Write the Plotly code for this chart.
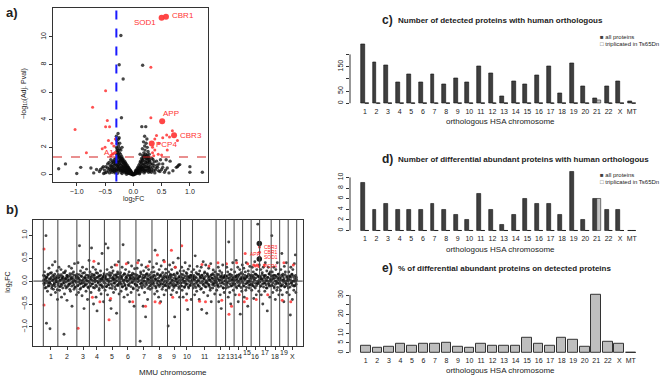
import plotly.graph_objects as go

W, H = 668, 379
FONT = "Liberation Sans, Arial, sans-serif"

# ---------------- panel a : volcano ----------------
A_PAIRS = [
    (-0.015,0.02),(-0.022,0.09),(-0.018,0.15),(-0.035,0.05),(-0.042,0.16),(-0.038,0.26),(-0.055,0.08),(-0.062,0.21),(-0.058,0.34),(-0.065,0.42),
    (-0.075,0.11),(-0.083,0.26),(-0.078,0.44),(-0.086,0.56),(-0.095,0.13),(-0.104,0.31),(-0.098,0.52),(-0.106,0.69),
    (-0.115,0.16),(-0.123,0.36),(-0.118,0.61),(-0.126,0.8),(-0.135,0.21),(-0.143,0.46),(-0.138,0.7),(-0.146,0.94),
    (-0.155,0.18),(-0.163,0.5),(-0.158,0.81),(-0.166,1.04),(-0.175,0.26),(-0.183,0.55),(-0.178,0.9),(-0.186,1.18),
    (-0.195,0.31),(-0.203,0.61),(-0.198,1.0),(-0.206,1.34),(-0.215,0.2),(-0.223,0.7),(-0.218,1.1),(-0.226,1.5),
    (-0.235,0.36),(-0.243,0.8),(-0.238,1.21),(-0.246,1.6),(-0.241,1.9),(-0.255,0.3),(-0.263,0.76),(-0.258,1.3),(-0.266,1.75),(-0.261,2.1),
    (-0.275,0.41),(-0.283,0.9),(-0.278,1.4),(-0.286,1.9),(-0.281,2.3),(-0.295,0.35),(-0.298,0.95),(-0.292,1.5),(-0.297,2.0),(-0.289,2.5),
    (-0.305,0.3),(-0.315,0.8),(-0.31,1.2),(-0.322,1.62),(-0.318,2.6),(-0.335,0.25),(-0.342,0.7),(-0.338,1.1),(-0.345,2.1),
    (-0.355,0.3),(-0.362,0.6),(-0.358,1.0),(-0.365,1.5),(-0.375,0.2),(-0.383,0.5),(-0.378,0.9),(-0.395,0.3),(-0.403,0.7),(-0.398,1.1),
    (-0.42,0.15),(-0.425,0.5),(-0.445,0.3),(-0.455,0.8),(-0.475,0.2),(-0.485,0.6),(-0.51,0.35),(-0.525,0.1),(-0.55,0.5),(-0.6,0.25),(-0.65,0.4),(-0.7,0.15),
    (-0.05,0.3),(-0.09,0.4),(-0.13,0.55),(-0.17,0.65),(-0.21,0.85),(-0.25,1.05),(-0.29,1.2),(-0.12,0.05),(-0.2,0.1),(-0.28,0.12),(-0.33,0.5),
    (-0.27,0.6),(-0.23,0.45),(-0.19,0.4),(-0.15,0.32),(-0.11,0.22),(-0.07,0.15),(-0.3,0.7),(-0.26,0.95),(-0.22,1.25),(-0.18,0.75),(-0.14,0.6),
    (-0.1,0.55),(-0.24,2.3),(-0.28,1.65),(-0.26,2.6),(-0.22,1.8),(-0.2,2.0),(-0.3,2.8),(-0.27,3.0),(-0.25,2.7),
    (-0.03,0.12),(-0.045,0.22),(-0.07,0.32),(-0.085,0.18),(-0.105,0.45),(-0.125,0.28),(-0.14,0.85),(-0.16,0.38),(-0.17,0.95),(-0.185,0.3),
    (-0.19,1.1),(-0.205,0.5),(-0.21,1.2),(-0.225,0.35),(-0.23,1.0),(-0.245,0.55),(-0.25,1.35),(-0.265,0.5),(-0.27,1.5),(-0.285,0.65),
    (-0.29,1.75),(-0.3,1.05),(-0.31,0.45),(-0.32,0.95),(-0.325,0.15),(-0.34,0.4),(-0.35,0.85),(-0.37,0.4),(-0.39,0.65),(-0.41,0.4),
    (-0.43,0.9),(-0.46,0.5),(-0.5,0.15),(-0.53,0.6),(-0.58,0.4),(-0.01,0.01),(0.005,0.01),(0.01,0.05),
    (0.015,0.03),(0.022,0.1),(0.035,0.06),(0.042,0.18),(0.038,0.3),(0.055,0.1),(0.062,0.25),(0.058,0.4),
    (0.075,0.12),(0.083,0.35),(0.078,0.55),(0.095,0.2),(0.104,0.45),(0.098,0.7),
    (0.115,0.15),(0.123,0.5),(0.118,0.85),(0.126,1.0),(0.135,0.3),(0.143,0.6),(0.138,0.95),(0.146,1.2),
    (0.155,0.25),(0.163,0.7),(0.158,1.1),(0.166,1.4),(0.175,0.35),(0.183,0.8),(0.178,1.25),(0.186,1.6),
    (0.195,0.3),(0.203,0.75),(0.198,1.3),(0.206,1.8),(0.201,2.1),(0.215,0.4),(0.223,0.9),(0.218,1.5),(0.226,2.3),
    (0.235,0.35),(0.243,0.85),(0.238,1.2),(0.246,2.0),(0.255,0.3),(0.263,0.7),(0.258,1.1),(0.275,0.45),(0.283,0.9),(0.278,1.25),
    (0.295,0.25),(0.3,0.6),(0.292,1.0),(0.325,0.4),(0.335,0.8),(0.33,1.2),(0.355,0.3),(0.365,0.7),(0.4,0.5),(0.41,1.0),
    (0.445,0.3),(0.455,0.8),(0.5,0.4),(0.55,0.2),(0.6,0.5),
    (0.05,0.2),(0.09,0.3),(0.13,0.4),(0.17,0.5),(0.21,0.6),(0.25,0.55),(0.29,0.4),(0.11,0.08),(0.19,0.15),(0.27,0.2),
    (0.12,1.5),(0.18,2.4),(0.24,2.6),(0.26,1.7),(0.28,1.5),(0.22,3.5),(0.15,3.5),(0.2,2.8),(0.16,1.9),(0.23,1.35),
    (0.35,1.1),(0.42,0.7),(0.48,1.1),(0.52,0.8),(0.38,0.15),
    (0.03,0.15),(0.045,0.26),(0.07,0.35),(0.085,0.5),(0.105,0.3),(0.12,0.65),(0.135,0.5),(0.15,0.85),(0.165,0.45),(0.17,1.05),
    (0.185,0.55),(0.19,1.4),(0.205,1.0),(0.21,0.25),(0.225,1.15),(0.23,0.6),(0.245,1.45),(0.25,0.95),(0.265,1.3),(0.27,0.55),
    (0.285,1.1),(0.31,0.8),(0.32,0.2),(0.345,0.55),(0.37,0.95),(0.39,0.35),(0.43,0.55),(0.47,0.25),(0.52,0.55),(0.57,0.35),(0.63,0.15),
    (0.31,7.8),(0.31,4.15),(0.34,2.0),(0.38,1.8),(0.41,2.85),(0.38,2.6),(0.45,2.3),(0.44,1.5),(0.52,2.7),(0.59,2.9),
    (0.64,2.75),(0.69,3.2),(0.78,2.5),(0.6,1.8),(0.5,1.45),(0.36,1.4),(0.34,1.6),
    (-0.49,6.1),(-0.72,4.9),(-1.03,3.3),(-0.46,3.95),(-0.49,3.5),(-0.42,3.5),(-0.83,1.6),(-0.5,2.0),(-0.44,2.5),
    (-0.38,2.3),(-0.55,1.9),(-0.4,1.4),(-0.35,1.55),
    (-0.22,10.1),(-0.25,7.98),(0.165,7.95),(-0.18,6.95),(-0.21,4.15),(-1.32,0.45),(-1.2,0.8),(-1.0,0.1),(-0.93,0.55),
    (-0.75,0.5),(1.0,0.6),(1.0,0.2),(1.22,0.2),(0.8,0.7),(0.78,0.6),(0.76,0.55),(0.82,0.75),(0.7,0.3),(0.65,1.0),(0.58,1.1),
]
A_LOG2FC = [p[0] for p in A_PAIRS]
A_NEGLOG10P = [p[1] for p in A_PAIRS]
A_FC_CUT = 0.3
A_P_CUT = 1.3
A_GENES = ["SOD1", "CBR1", "APP", "CBR3", "PCP4"]
A_GENE_FC = [0.50, 0.577, 0.51, 0.72, 0.325]
A_GENE_P = [11.39, 11.46, 3.9, 2.88, 2.27]
A_XTICKS = [-1.0, -0.5, 0.0, 0.5, 1.0]
A_YTICKS = [0, 2, 4, 6, 8, 10]

# ---------------- panel b : log2FC along MMU chromosomes ----------------
B_CHROMS = [str(i) for i in range(1, 20)] + ["X"]
B_FC = [
    [0.12,-0.05,0.2,-0.15,0.03,0.99,-0.92,0.08,-0.22,0.15,-0.1,0.28,-0.04,-1.04,0.05,-0.3,0.18,-0.12,0.35,0.02,-0.18,0.1,-0.07,0.42,-0.25,0.06,-0.02,0.22,-0.4],
    [-0.08,0.14,0.3,-0.2,0.02,-0.12,0.25,-0.35,0.06,0.1,-0.05,0.18,-1.16,-0.28,0.04,0.22,-0.15,0.08,-0.42,0.12,0.0,-0.1,0.32,-0.06,0.16,-0.22,0.05,0.28,-0.55,0.09,-0.03,0.2,-0.18,0.38,0.01,-0.13,0.11,-0.3],
    [0.15,-0.1,0.4,-0.25,0.05,0.77,-0.18,0.22,-0.05,0.1,-0.32,0.3,0.02,-0.12,-0.6,0.18,-0.08,0.07,-0.22,0.26,0.0,-0.4,0.12,-0.15,0.45],
    [-0.12,0.2,0.05,-0.25,0.72,0.1,-0.06,0.3,-0.5,0.14,-0.15,0.02,0.25,-0.35,0.08,-0.65,0.17,-0.02,0.38,-0.2,0.11,-0.09,0.22,-0.28,0.04,0.6,-0.14,0.09,-0.45,0.16],
    [0.1,-0.2,0.81,0.05,-0.12,0.25,-0.3,0.72,0.0,-0.08,0.18,-0.42,0.12,-0.6,0.3,-0.16,0.06,0.22,-0.25,0.03,-0.05,0.35,-0.18,0.14,-0.7,0.08,0.2,-0.1,0.42,-0.28,0.04],
    [-0.05,0.18,-0.22,0.08,0.3,-0.12,0.79,0.02,-0.35,0.15,-0.08,0.25,-0.18,0.1,0.0,-0.3,0.4,-0.1,0.2,-0.45,0.06,0.12,-0.25,0.33,-0.02,0.17,-0.15,0.05,-0.55,0.27,-0.06,0.09],
    [0.14,-0.1,0.28,-0.2,0.05,0.45,-0.3,0.1,-1.31,0.2,-0.05,0.35,-0.15,0.08,-0.55,0.22,0.0,-0.25,0.12,-0.78,0.3,-0.08,0.16,-0.4,0.04,0.25,-0.12,0.42,-0.18,0.07,-0.02,0.19],
    [-0.15,0.1,0.3,-0.05,0.2,-0.28,0.67,0.05,-0.12,0.38,-0.22,0.14,0.0,-0.35,0.25,-0.08,0.12,-0.45,0.33,0.02,-0.18,0.18,-0.06,0.45,-0.3,0.08,-0.1,0.26,-0.2,0.1,-0.02],
    [0.08,-0.98,0.2,-0.15,0.35,-0.05,0.12,-0.3,0.25,0.02,-0.2,0.4,-0.1,0.15,-0.78,0.3,-0.08,0.05,-0.25,0.18,-0.02,0.5,-0.12,0.1,-0.35,0.22],
    [-0.1,0.15,0.3,-0.2,0.05,-0.35,0.22,0.0,-0.12,0.4,-0.05,0.18,-0.28,0.1,-0.62,0.26,-0.15,0.08,0.33,-0.08,0.12,-0.4,0.2,0.02],
    [0.1,-0.15,0.25,0.05,-0.3,0.55,-0.05,0.18,-0.22,0.32,0.0,-0.1,0.15,-0.4,0.22,0.08,-0.18,0.3,-0.62,0.12,-0.06,0.42,-0.25,0.05,0.2,-0.12,0.35,-0.02,-0.7,0.16,-0.32,0.1,0.28,-0.08,0.02,-0.2,0.38,-0.45,0.14,0.06,-0.15,0.24,-0.04,0.12,-0.28,0.2,0.0],
    [0.05,-0.2,0.15,-0.1,0.3,-0.45,0.02,0.22,-0.3,0.1,-0.6,0.18,-0.05,0.35,-0.15,0.08,-0.25,0.12,0.0],
    [0.1,-0.15,0.3,-0.05,0.2,-0.35,0.85,0.05,-0.25,0.15,-0.5,0.25,-0.1,0.02,0.4,-0.2,0.08],
    [-0.05,0.2,-0.3,0.1,0.45,-0.15,0.02,0.3,-0.45,0.12,-0.1,0.25,-0.72,0.05,0.18,-0.22,0.35],
    [0.15,-0.1,0.28,-0.35,0.05,0.2,-0.2,0.4,-0.05,0.1,-0.55,0.22,0.0,-0.15,0.32,-0.08,0.12],
    [0.08,-0.2,0.3,-0.1,0.2,-0.38,0.05,0.42,-0.15,0.15,-0.3,0.25,-0.05,1.24,0.1,-0.22,0.35],
    [0.1,-0.12,0.25,-0.3,0.05,0.18,-0.5,0.3,-0.05,0.12,-0.22,0.4,0.0,-0.15,0.22,-0.65,0.08,0.3,-0.08,0.15,-0.35,0.2,0.02],
    [-0.1,0.99,0.2,-0.25,0.05,0.3,-0.15,0.12,-0.4,0.25,0.0,-0.2,0.4,-0.05,0.15,-0.3,0.08],
    [0.05,-0.2,0.25,-0.1,0.6,-0.3,0.15,0.02,-0.45,0.32,-0.12,0.2,-0.05,0.4,-0.25,0.1,0.0],
    [-0.15,0.2,-0.3,0.1,-0.74,0.3,-0.05,0.15,-0.4,0.25,0.0,-0.2,0.38,-0.1,0.57,-0.25,0.08],
]
# proteins with small changes (dense core of the band), per chromosome
B_FC_CORE = [
    [0.02,-0.08,0.11,-0.03,0.06,-0.14,0.09,0.0,-0.05,0.13,-0.11,0.04,-0.02,0.17,-0.07,0.08,-0.16,0.01,0.12,-0.09,0.05,-0.04,0.15,-0.12,0.03,-0.01,0.1,-0.19,0.07],
    [-0.03,0.07,-0.12,0.1,0.01,-0.06,0.14,-0.09,0.04,-0.15,0.08,0.0,-0.04,0.18,-0.1,0.05,-0.02,0.12,-0.13,0.03,0.09,-0.07,0.02,-0.18,0.11,-0.05,0.06,-0.11,0.16,-0.01,0.04,-0.08,0.13,-0.14,0.0,0.07,-0.03,0.1],
    [0.05,-0.1,0.08,-0.02,0.14,-0.07,0.02,-0.15,0.11,0.0,-0.05,0.17,-0.12,0.06,-0.03,0.09,-0.09,0.03,0.13,-0.06,0.01,-0.13,0.07,-0.01,0.1],
    [-0.04,0.09,-0.1,0.03,0.15,-0.06,0.01,-0.14,0.07,0.12,-0.02,0.05,-0.09,0.18,-0.12,0.0,0.08,-0.05,0.11,-0.16,0.04,-0.01,0.13,-0.08,0.06,-0.11,0.02,0.1,-0.03,0.14],
    [0.06,-0.05,0.1,-0.12,0.02,0.15,-0.08,0.04,-0.02,0.12,-0.15,0.07,0.0,-0.06,0.17,-0.1,0.03,0.09,-0.04,0.13,-0.13,0.05,-0.01,0.11,-0.09,0.01,0.16,-0.07,0.08,-0.03,0.14],
    [-0.02,0.1,-0.07,0.05,-0.13,0.12,0.0,-0.04,0.16,-0.1,0.03,0.08,-0.15,0.06,-0.01,0.14,-0.08,0.02,0.11,-0.05,0.07,-0.12,0.04,0.13,-0.03,0.09,-0.17,0.01,0.15,-0.06,0.05,-0.09],
    [0.04,-0.09,0.12,-0.02,0.07,-0.14,0.01,0.1,-0.06,0.16,-0.11,0.03,-0.03,0.13,-0.08,0.06,0.0,-0.12,0.09,-0.05,0.15,-0.01,0.05,-0.16,0.11,-0.04,0.02,0.14,-0.1,0.08,-0.07,0.03],
    [-0.06,0.08,-0.01,0.13,-0.1,0.04,0.11,-0.15,0.02,-0.04,0.16,-0.08,0.06,0.0,-0.12,0.1,-0.03,0.14,-0.07,0.03,0.09,-0.13,0.05,-0.02,0.12,-0.09,0.01,0.17,-0.05,0.07,-0.11],
    [0.03,-0.07,0.1,-0.12,0.05,0.15,-0.03,0.08,-0.09,0.01,0.13,-0.05,-0.14,0.06,0.0,0.11,-0.1,0.04,-0.02,0.16,-0.06,0.07,-0.16,0.02,0.09,-0.04],
    [-0.05,0.09,-0.11,0.02,0.14,-0.03,0.07,-0.14,0.11,0.0,-0.08,0.05,0.16,-0.06,0.03,-0.12,0.1,-0.01,0.06,-0.1,0.13,-0.04,0.01,0.08],
    [0.05,-0.06,0.12,-0.1,0.02,0.09,-0.14,0.07,-0.02,0.15,-0.08,0.03,0.0,-0.12,0.11,-0.04,0.06,-0.16,0.13,-0.01,0.08,-0.09,0.04,0.17,-0.05,0.1,-0.13,0.01,-0.03,0.14,-0.07,0.05,-0.11,0.09,0.02,-0.15,0.12,-0.02,0.06,-0.08,0.16,-0.06,0.03,-0.1,0.08,0.0,-0.04],
    [-0.03,0.1,-0.08,0.05,-0.13,0.14,0.01,-0.05,0.08,-0.11,0.03,0.12,-0.02,0.06,-0.15,0.09,-0.07,0.0,0.11],
    [0.04,-0.09,0.11,-0.02,0.07,-0.13,0.14,0.0,-0.06,0.09,-0.11,0.03,0.12,-0.04,0.06,-0.08,0.01],
    [0.02,-0.07,0.1,-0.12,0.05,0.13,-0.03,0.08,-0.1,0.0,0.15,-0.05,0.04,-0.14,0.09,-0.01,0.06],
    [-0.04,0.08,-0.11,0.03,0.12,-0.06,0.06,-0.14,0.1,0.0,-0.03,0.15,-0.09,0.05,-0.01,0.11,-0.07],
    [0.05,-0.08,0.12,-0.03,0.09,-0.12,0.02,0.15,-0.05,0.07,-0.1,0.13,0.0,-0.06,0.1,-0.02,0.04],
    [-0.02,0.09,-0.1,0.04,0.14,-0.06,0.01,-0.13,0.1,0.06,-0.04,0.12,-0.08,0.03,-0.15,0.08,0.0,-0.05,0.16,-0.11,0.05,-0.01,0.11],
    [0.03,-0.09,0.1,-0.04,0.13,-0.12,0.06,0.0,-0.07,0.11,-0.02,0.08,-0.14,0.04,0.15,-0.05,0.01],
    [-0.05,0.07,-0.11,0.12,0.02,-0.08,0.1,-0.02,0.05,-0.13,0.14,0.0,-0.06,0.09,-0.1,0.03,0.06],
    [0.04,-0.06,0.11,-0.13,0.02,0.08,-0.03,0.14,-0.09,0.0,0.1,-0.11,0.05,-0.01,0.12,-0.07,0.03],
]
# significant (red) proteins: chromosome index, relative position within chromosome, log2FC
B_SIG_CHR = [0,0,2,3,3,3,4,4,4,5,5,6,6,6,7,7,7,7,8,8,8,9,9,10,10,10,10,11,11,12,12,12,13,13,14,14,14,14,
             15,15,15,15,15,15,15,15,16,16,18,18,19,19]
B_SIG_POS = [0.05,0.05,0.1,0.3,0.2,0.7,0.3,0.4,0.8,0.8,0.4,0.1,0.75,0.6,0.35,0.2,0.5,0.8,0.3,0.6,0.4,0.1,0.5,
             0.4,0.7,0.3,0.55,0.2,0.6,0.1,0.4,0.7,0.3,0.6,0.3,0.6,0.5,0.2,
             0.3,0.5,0.7,0.98,0.98,0.98,0.9,0.6,0.4,0.7,0.5,0.3,0.3,0.6]
B_SIG_FC = [0.70,-0.52,-1.03,0.43,-0.35,-0.45,-0.84,-0.38,0.35,-0.45,0.38,0.40,0.33,-0.55,0.57,-0.45,-0.48,0.42,
            0.67,0.30,-0.35,0.77,-0.42,0.36,0.33,-0.44,-0.45,0.40,-0.42,0.38,-0.72,-0.55,0.40,-0.30,
            0.60,0.38,-0.38,-0.45,
            0.35,0.33,0.35,0.74,0.63,0.52,0.32,-0.40,0.35,-0.30,0.40,-0.42,-0.45,0.35]
B_SIG_LABEL = {41: "CBR3", 42: "CBR1", 43: "SOD1", 34: "APP", 44: "PCP4"}
B_BIG_CHR = [15, 15]
B_BIG_POS = [0.96, 0.96]
B_BIG_FC = [0.82, 0.48]
B_YTICKS = [-1.0, -0.5, 0.0, 0.5, 1.0]

# ---------------- panels c, d, e ----------------
HSA_CHROMS = [str(i) for i in range(1, 23)] + ["X", "MT"]
C_ALL = [240,169,154,84,117,85,117,77,102,84,153,123,28,89,76,114,151,39,162,69,20,70,89,8]
C_TRIP = [0]*20 + [11, 0, 0, 0]
D_ALL = [9,4,5,4,4,4,5,4,3,2,7,4,1,3,6,5,5,3,11,2,6,4,4,0]
D_TRIP = [0]*20 + [6, 0, 0, 0]
E_PCT = [3.7,2.4,3.2,4.8,3.4,4.7,4.3,5.2,2.9,2.4,4.6,3.3,3.6,3.4,7.9,4.4,3.3,7.7,6.8,2.9,30.0,5.7,4.5,0]
C_YTICKS = [0, 50, 150]
C_YMINOR = [100, 200]
D_YTICKS = [0, 2, 4, 6, 8, 10]
E_YTICKS = [0, 5, 10, 20, 30]
E_YMINOR = [15, 25]

DARK = "#3f3f3f"
LIGHT = "#c4c4c4"
RED = "rgba(255,50,50,0.85)"
BLK = "rgba(10,10,10,0.75)"


def px(xp):
    return xp / W


def py(yp):
    return 1 - yp / H


fig = go.Figure()

# ---- panel a ----
is_red = [(y > A_P_CUT and abs(x) > A_FC_CUT) for x, y in zip(A_LOG2FC, A_NEGLOG10P)]
fig.add_trace(go.Scatter(
    x=[x for x, r in zip(A_LOG2FC, is_red) if not r], y=[y for y, r in zip(A_NEGLOG10P, is_red) if not r],
    mode="markers", marker=dict(size=3.4, color=BLK), xaxis="x", yaxis="y", showlegend=False))
fig.add_trace(go.Scatter(
    x=[x for x, r in zip(A_LOG2FC, is_red) if r], y=[y for y, r in zip(A_NEGLOG10P, is_red) if r],
    mode="markers", marker=dict(size=3, color=RED), xaxis="x", yaxis="y", showlegend=False))
fig.add_trace(go.Scatter(
    x=A_GENE_FC, y=A_GENE_P, mode="markers", marker=dict(size=6, color="rgba(255,60,60,0.95)"),
    xaxis="x", yaxis="y", showlegend=False))

# ---- panel b ----
starts, sizes = [], []
s = 0
for broad, core in zip(B_FC, B_FC_CORE):
    starts.append(s)
    sizes.append(len(broad) + len(core))
    s += len(broad) + len(core)
N = s
bx, by = [], []
for st, n_, broad, core in zip(starts, sizes, B_FC, B_FC_CORE):
    for j, v in enumerate(broad):
        bx.append(st + (j + 0.3) / len(broad) * n_)
        by.append(v)
    for j, v in enumerate(core):
        bx.append(st + (j + 0.8) / len(core) * n_)
        by.append(v)
fig.add_trace(go.Scatter(x=bx, y=by, mode="markers", marker=dict(size=2.9, color=BLK),
                         xaxis="x2", yaxis="y2", showlegend=False))
rx = [starts[c] + r * sizes[c] for c, r in zip(B_SIG_CHR, B_SIG_POS)]
fig.add_trace(go.Scatter(x=rx, y=B_SIG_FC, mode="markers", marker=dict(size=3, color=RED),
                         xaxis="x2", yaxis="y2", showlegend=False))
bgx = [starts[c] + r * sizes[c] for c, r in zip(B_BIG_CHR, B_BIG_POS)]
fig.add_trace(go.Scatter(x=bgx, y=B_BIG_FC, mode="markers", marker=dict(size=5.5, color="#222"),
                         xaxis="x2", yaxis="y2", showlegend=False))


# ---- bar panels ----
def zero_segments(xs, vals, width):
    sx, sy = [], []
    for x, v in zip(xs, vals):
        if v == 0:
            sx += [x - width / 2, x + width / 2, None]
            sy += [0, 0, None]
    return sx, sy


n = len(HSA_CHROMS)
dark_x = [3 * i + 1.5 for i in range(n)]
light_x = [3 * i + 2.5 for i in range(n)]
grp_x = [3 * i + 2 for i in range(n)]
e_x = [0.7 + 1.2 * i for i in range(n)]

for (allv, tripv, xa, ya) in [(C_ALL, C_TRIP, "x3", "y3"), (D_ALL, D_TRIP, "x4", "y4")]:
    fig.add_trace(go.Bar(x=dark_x, y=allv, width=1, marker=dict(color=DARK, line=dict(color="#111", width=0.6)),
                         xaxis=xa, yaxis=ya, showlegend=False))
    fig.add_trace(go.Bar(x=light_x, y=tripv, width=1, marker=dict(color=LIGHT, line=dict(color="#222", width=0.6)),
                         xaxis=xa, yaxis=ya, showlegend=False))
    sx, sy = zero_segments(dark_x + light_x, allv + tripv, 1)
    fig.add_trace(go.Scatter(x=sx, y=sy, mode="lines", line=dict(color="#222", width=1),
                             xaxis=xa, yaxis=ya, showlegend=False))

fig.add_trace(go.Bar(x=e_x, y=E_PCT, width=1, marker=dict(color="#bebebe", line=dict(color="#333", width=1)),
                     xaxis="x5", yaxis="y5", showlegend=False))
sx, sy = zero_segments(e_x, E_PCT, 1)
fig.add_trace(go.Scatter(x=sx, y=sy, mode="lines", line=dict(color="#333", width=1),
                         xaxis="x5", yaxis="y5", showlegend=False))

# ---------------- layout ----------------
tickfont = dict(family=FONT, size=7, color="#222")
box = dict(showline=True, mirror=True, linecolor="#333", linewidth=1, ticks="outside", ticklen=3,
           tickcolor="#333", showgrid=False, zeroline=False, tickfont=tickfont)
barx = dict(showline=False, ticks="", showgrid=False, zeroline=False, tickfont=tickfont)
bary = dict(tickangle=-90, showline=False, ticks="outside", ticklen=3, tickcolor="#333",
            showgrid=False, zeroline=False, tickfont=tickfont)
minor = dict(ticks="outside", ticklen=3, tickcolor="#333", showgrid=False)

BAR_X_DOM = [px(350), px(646.6)]

layout = dict(
    width=W, height=H, margin=dict(l=0, r=0, t=0, b=0),
    paper_bgcolor="white", plot_bgcolor="white", bargap=0,
    font=dict(family=FONT, size=7, color="#222"),
    xaxis=dict(domain=[px(53), px(208)], anchor="y", range=[-1.42, 1.32],
               tickvals=A_XTICKS, tickformat=".1f", **box),
    yaxis=dict(domain=[py(180), py(5)], anchor="x", range=[-0.48, 12.1],
               tickvals=A_YTICKS, tickangle=-90, **box),
    xaxis2=dict(domain=[px(33.3), px(302.7)], anchor="y2",
                range=[-0.0395 * N, N + 0.0237 * N],
                tickvals=[st + n_ / 2 for st, n_ in zip(starts, sizes)],
                showticklabels=False, **box),
    yaxis2=dict(domain=[py(346), py(218.3)], anchor="x2", range=[-1.42, 1.34],
                tickvals=B_YTICKS, tickformat=".1f", tickangle=-90, **box),
    xaxis3=dict(domain=BAR_X_DOM, anchor="y3", range=[-1.84, 74.84], tickvals=grp_x, ticktext=HSA_CHROMS, **barx),
    yaxis3=dict(domain=[py(103.4), py(39.6)], anchor="x3", range=[-9.6, 249.6], tickvals=C_YTICKS,
                minor=dict(tickvals=C_YMINOR, **minor), **bary),
    xaxis4=dict(domain=BAR_X_DOM, anchor="y4", range=[-1.84, 74.84], tickvals=grp_x, ticktext=HSA_CHROMS, **barx),
    yaxis4=dict(domain=[py(231.7), py(168.1)], anchor="x4", range=[-0.44, 11.44], tickvals=D_YTICKS, **bary),
    xaxis5=dict(domain=BAR_X_DOM, anchor="y5", range=[-0.944, 29.944], tickvals=e_x, ticktext=HSA_CHROMS, **barx),
    yaxis5=dict(domain=[py(354.6), py(292.1)], anchor="x5", range=[-1.2, 31.2], tickvals=E_YTICKS,
                minor=dict(tickvals=E_YMINOR, **minor), **bary),
)
fig.update_layout(**layout)

shapes = []
# panel a threshold lines
shapes.append(dict(type="line", xref="x domain", yref="y", x0=0, x1=1, y0=A_P_CUT, y1=A_P_CUT,
                   line=dict(color="#d42020", width=1.2, dash="dash"), layer="above"))
shapes.append(dict(type="line", xref="x", yref="y domain", x0=-A_FC_CUT, x1=-A_FC_CUT, y0=0, y1=1,
                   line=dict(color="#1a1aff", width=2, dash="dash"), layer="above"))
# panel b chromosome separators and zero line
for st in starts + [N]:
    shapes.append(dict(type="line", xref="x2", yref="y2 domain", x0=st, x1=st, y0=0, y1=1,
                       line=dict(color="#444", width=1), layer="above"))
shapes.append(dict(type="line", xref="x2 domain", yref="y2", x0=0, x1=1, y0=0, y1=0,
                   line=dict(color="#333", width=1), layer="above"))
# bar panel y axis lines (first to last tick)
for ya, lo, hi in [("y3", 0, 200), ("y4", 0, 10), ("y5", 0, 30)]:
    shapes.append(dict(type="line", xref="paper", yref=ya, x0=BAR_X_DOM[0], x1=BAR_X_DOM[0],
                       y0=lo, y1=hi, line=dict(color="#333", width=1)))
fig.update_layout(shapes=shapes)

ann = []


def txt(x, y, t, size=7, bold=False, color="#222", xanchor="center", yanchor="middle", angle=0,
        xref="paper", yref="paper", xshift=0, yshift=0):
    ann.append(dict(x=x, y=y, xref=xref, yref=yref, text=("<b>%s</b>" % t) if bold else t, showarrow=False,
                    font=dict(family=FONT, size=size, color=color), xanchor=xanchor, yanchor=yanchor,
                    textangle=angle, xshift=xshift, yshift=yshift))


# panel letters & titles
txt(px(4), py(10), "a)", size=13, bold=True, xanchor="left")
txt(px(4), py(208), "b)", size=13, bold=True, xanchor="left")
txt(px(380), py(17), "c)", size=12, bold=True, xanchor="left")
txt(px(396), py(18), "Number of detected proteins with human orthologous", size=8, bold=True, xanchor="left")
txt(px(380), py(157), "d)", size=12, bold=True, xanchor="left")
txt(px(396), py(158), "Number of differential abundant proteins with human orthologous", size=8, bold=True,
    xanchor="left")
txt(px(380), py(267), "e)", size=12, bold=True, xanchor="left")
txt(px(396), py(268), "% of differential abundant proteins on detected proteins", size=8, bold=True,
    xanchor="left")

# axis titles
txt(px(133), py(198), "log<sub>2</sub>FC", size=7)
txt(px(24), py(92), "\u2212log<sub>10</sub>(Adj. Pval)", size=7, angle=-90)
txt(px(8), py(282), "log<sub>2</sub>FC", size=7, angle=-90)
txt(px(173), py(372), "MMU chromosome", size=8)
for yy in (119, 248, 370):
    txt(px(500), py(yy), "orthologous HSA chromosome", size=8)

# legends (c, d)
for y1, y2 in ((34, 41), (173, 180)):
    txt(px(598), py(y1), '<span style="color:%s">\u25a0</span> all proteins' % DARK, size=6, xanchor="left")
    txt(px(598), py(y2), '<span style="color:#555">\u25a1</span> triplicated in Ts65Dn', size=6, xanchor="left")

# panel a gene labels
A_LABEL_POS = {"SOD1": ("right", -4, -5), "CBR1": ("left", 4, 1), "APP": ("left", -1, 8),
               "CBR3": ("left", 4, 0), "PCP4": ("left", 2, -1)}
for g, x, y in zip(A_GENES, A_GENE_FC, A_GENE_P):
    xa, xs, ys = A_LABEL_POS[g]
    txt(x, y, g, size=8, color="#ff3333", xanchor=xa, xref="x", yref="y", xshift=xs, yshift=ys)
txt(-0.31, 1.63, "A1", size=8, color="#ff3333", xanchor="right", xref="x", yref="y")

# panel b gene labels
for i, g in B_SIG_LABEL.items():
    x = starts[B_SIG_CHR[i]] + B_SIG_POS[i] * sizes[B_SIG_CHR[i]]
    txt(x, B_SIG_FC[i], g, size=5, color="#ff2020", xanchor="left", xref="x2", yref="y2", xshift=3)

# panel b chromosome labels (15, 17, 19 raised)
for st, n_, name in zip(starts, sizes, B_CHROMS):
    raised = name in ("15", "17", "19")
    txt(st + n_ / 2, 0, name, size=7, xref="x2", yref="y2 domain", yshift=-6 if raised else -10)

fig.update_layout(annotations=ann)
fig.write_html("out.html", config={"displayModeBar": False},
               post_script="document.body.style.margin='0px';document.body.style.overflow='hidden';")
